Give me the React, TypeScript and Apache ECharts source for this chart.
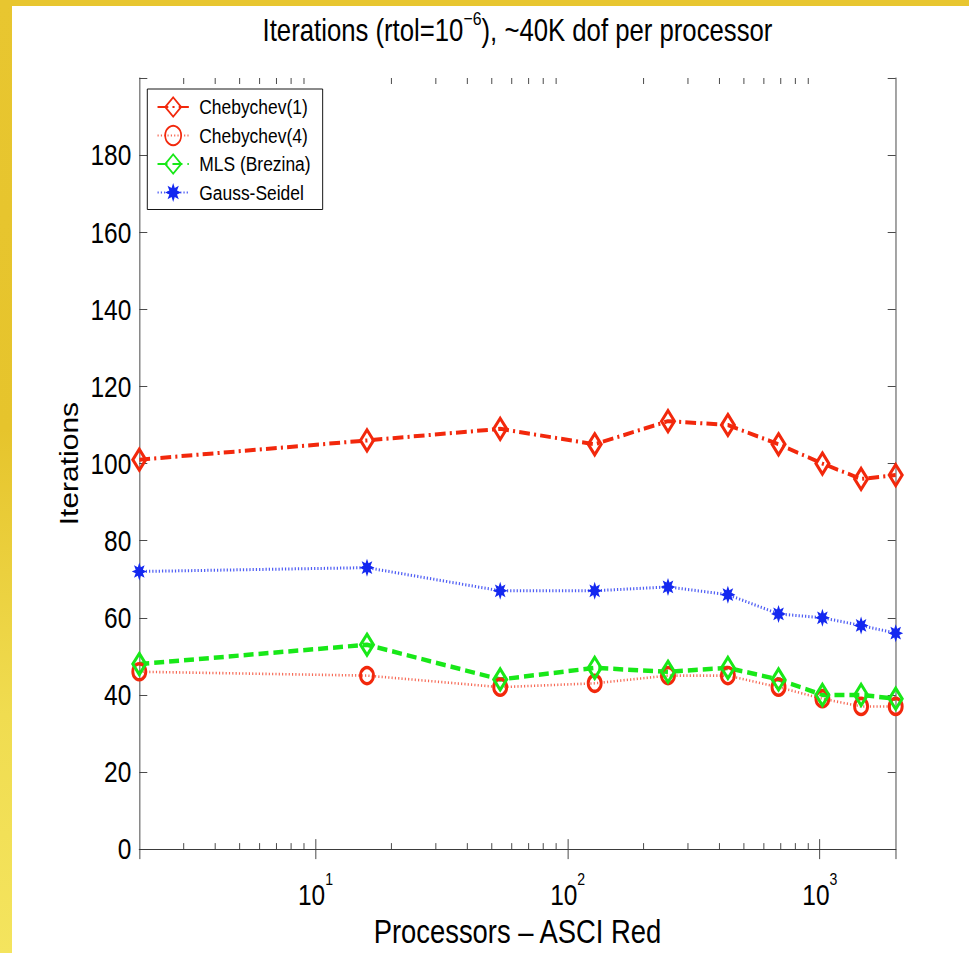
import React, { useEffect, useRef } from "react";
import * as echarts from "echarts";

// ---- data ----
const processors = [2, 16, 54, 128, 250, 432, 686, 1024, 1458, 2000];
const chebychev1 = [101, 106, 109, 105, 111, 110, 105, 100, 96, 97];
const chebychev4 = [46, 45, 42, 43, 45, 45, 42, 39, 37, 37];
const mlsBrezina = [48, 53, 44, 47, 46, 47, 44, 40, 40, 39];
const gaussSeidel = [72, 73, 67, 67, 68, 66, 61, 60, 58, 56];
const seriesNames = ["Chebychev(1)", "Chebychev(4)", "MLS (Brezina)", "Gauss-Seidel"];
const yTickLabels = ["0", "20", "40", "60", "80", "100", "120", "140", "160", "180"];
const xMinorTicks = [3, 4, 5, 6, 7, 8, 9, 20, 30, 40, 50, 60, 70, 80, 90, 200, 300, 400, 500, 600, 700, 800, 900];
const titleMain = "Iterations (rtol=10";
const titleExp = "−6";
const titleRest = "), ~40K dof per processor";
const xName = "Processors – ASCI Red";
const yName = "Iterations";

// The original figure is horizontally condensed: draw at a wider width and squeeze with CSS.
const SX = 0.83;
const W = 969 / SX;
const H = 953;
const px = (v: number) => v / SX; // page x-distance -> chart units

const FONT = "'Liberation Sans', Arial, Helvetica, sans-serif";
const AXIS = "#3a3a3a";
const RED = "#f2280c";
const GREEN = "#18e818";
const BLUE = "#1428f0";

const STAR = (() => {
  const pts: string[] = [];
  for (let i = 0; i < 16; i++) {
    const a = -Math.PI / 2 + (i * Math.PI) / 8;
    const r = i % 2 === 0 ? 50 : 26;
    pts.push(`${(50 + r * Math.cos(a)).toFixed(2)} ${(50 + r * Math.sin(a)).toFixed(2)}`);
  }
  return "path://M" + pts.join(" L") + " Z";
})();

const pairs = (ys: number[]) => processors.map((p, i) => [p, ys[i]]);

export default function App() {
  const ref = useRef<HTMLDivElement>(null);
  useEffect(() => {
    if (!ref.current) return;
    const chart = echarts.init(ref.current, null, { renderer: "svg" });
    const hollow = (c: string) => ({ color: "rgba(255,255,255,0)", borderColor: c, borderWidth: 3.5 });
    const txt = { fontFamily: FONT, color: "#000", fontWeight: "normal" as const };
    const option: any = {
      animation: false,
      backgroundColor: "transparent",
      textStyle: { fontFamily: FONT },
      title: {
        text: `{a|${titleMain}}{s|${titleExp}}{a|${titleRest}}`,
        left: px(517.5),
        textAlign: "center",
        top: 9,
        padding: 0,
        textStyle: {
          fontWeight: "normal",
          rich: {
            a: { ...txt, fontSize: 31, lineHeight: 37, verticalAlign: "bottom" },
            s: { ...txt, fontSize: 19, lineHeight: 19, verticalAlign: "top" },
          },
        },
      },
      grid: { left: px(139.3), top: 78, width: px(756.4), height: 775 },
      legend: {
        data: seriesNames,
        orient: "vertical",
        left: px(147.3),
        top: 89,
        backgroundColor: "#fff",
        borderColor: "#000",
        borderWidth: 1,
        borderRadius: 0,
        padding: [6, px(12), 5, px(9.4)],
        itemWidth: px(31.3),
        itemHeight: 24,
        itemGap: 4.5,
        textStyle: { ...txt, fontSize: 21, lineHeight: 24, padding: [0, 0, 0, px(6.3)] },
        selectedMode: false,
      },
      xAxis: [
        {
          type: "log",
          logBase: 10,
          min: 2,
          max: 2000,
          position: "bottom",
          axisLine: { lineStyle: { color: AXIS, width: 1 } },
          axisTick: { inside: true, length: 10, lineStyle: { color: AXIS } },
          splitLine: { show: false },
          minorTick: { show: false },
          axisLabel: {
            showMinLabel: false,
            showMaxLabel: false,
            margin: 21,
            formatter: (v: number) => `{b|10}{s|${Math.round(Math.log10(v))}}`,
            rich: {
              b: { ...txt, fontSize: 29.5, lineHeight: 40, verticalAlign: "bottom" },
              s: { ...txt, fontSize: 17, lineHeight: 17, verticalAlign: "top" },
            },
          },
          name: xName,
          nameLocation: "middle",
          nameGap: 61,
          nameTextStyle: { ...txt, fontSize: 33 },
        },
        {
          type: "log",
          logBase: 10,
          min: 2,
          max: 2000,
          position: "top",
          axisLine: { lineStyle: { color: AXIS, width: 1 } },
          axisTick: { inside: true, length: 10, lineStyle: { color: AXIS } },
          splitLine: { show: false },
          axisLabel: { show: false },
        },
      ],
      yAxis: [
        {
          type: "value",
          min: 0,
          max: 200,
          interval: 20,
          position: "left",
          axisLine: { show: true, lineStyle: { color: AXIS, width: 1 } },
          axisTick: { show: true, inside: true, length: px(8), lineStyle: { color: AXIS } },
          splitLine: { show: false },
          axisLabel: {
            ...txt,
            margin: px(8),
            fontSize: 29.5,
            formatter: (v: number) => yTickLabels[Math.round(v / 20)] ?? "",
          },
          name: yName,
          nameLocation: "middle",
          nameGap: 58,
          nameRotate: 90,
          nameTextStyle: { ...txt, fontSize: 30 },
        },
        {
          type: "value",
          min: 0,
          max: 200,
          interval: 20,
          position: "right",
          axisLine: { show: true, lineStyle: { color: AXIS, width: 1 } },
          axisTick: { show: true, inside: true, length: px(8), lineStyle: { color: AXIS } },
          splitLine: { show: false },
          axisLabel: { show: false },
        },
      ],
      series: [
        {
          type: "custom",
          name: "minorTicks",
          silent: true,
          clip: false,
          z: 1,
          data: xMinorTicks.map((v) => [v, 0]),
          renderItem: (params: any, api: any) => {
            const x = api.coord([api.value(0), 0])[0];
            const cs = params.coordSys;
            return {
              type: "group",
              children: [
                { type: "line", shape: { x1: x, y1: cs.y + cs.height, x2: x, y2: cs.y + cs.height - 6 }, style: { stroke: AXIS, lineWidth: 1 } },
                { type: "line", shape: { x1: x, y1: cs.y, x2: x, y2: cs.y + 6 }, style: { stroke: AXIS, lineWidth: 1 } },
              ],
            };
          },
        },
        {
          name: seriesNames[0],
          type: "line",
          data: pairs(chebychev1),
          symbol: "diamond",
          symbolSize: [px(13), 21],
          lineStyle: { color: RED, width: 4, type: [13, 5, 2.5, 5] },
          itemStyle: hollow(RED),
          emphasis: { disabled: true },
          z: 3,
        },
        {
          name: seriesNames[1],
          type: "line",
          data: pairs(chebychev4),
          symbol: "circle",
          symbolSize: [px(13), 16],
          lineStyle: { color: RED, width: 2.6, type: [1.4, 2.6], opacity: 0.7 },
          itemStyle: hollow(RED),
          emphasis: { disabled: true },
          z: 3,
        },
        {
          name: seriesNames[2],
          type: "line",
          data: pairs(mlsBrezina),
          symbol: "diamond",
          symbolSize: [px(13), 21],
          lineStyle: { color: GREEN, width: 4.5, type: [12, 6] },
          itemStyle: hollow(GREEN),
          emphasis: { disabled: true },
          z: 3,
        },
        {
          name: seriesNames[3],
          type: "line",
          data: pairs(gaussSeidel),
          symbol: STAR,
          symbolSize: [px(15), 18],
          lineStyle: { color: BLUE, width: 3, type: [1.5, 2.4], opacity: 0.75 },
          itemStyle: { color: BLUE, borderWidth: 0 },
          emphasis: { disabled: true },
          z: 3,
        },
      ],
    };
    chart.setOption(option);
    return () => chart.dispose();
  }, []);

  return (
    <div
      style={{
        position: "fixed",
        left: 0,
        top: 0,
        width: 969,
        height: 953,
        background: "linear-gradient(180deg, #e8c630 0%, #e6c42c 45%, #f0dc50 75%, #f4e45e 100%)",
        overflow: "hidden",
      }}
    >
      <div style={{ position: "absolute", left: 12, top: 6, right: 0, bottom: 0, background: "#fff" }} />
      <div
        ref={ref}
        style={{
          position: "absolute",
          left: 0,
          top: 0,
          width: W,
          height: H,
          transform: `scaleX(${SX})`,
          transformOrigin: "0 0",
        }}
      />
    </div>
  );
}
